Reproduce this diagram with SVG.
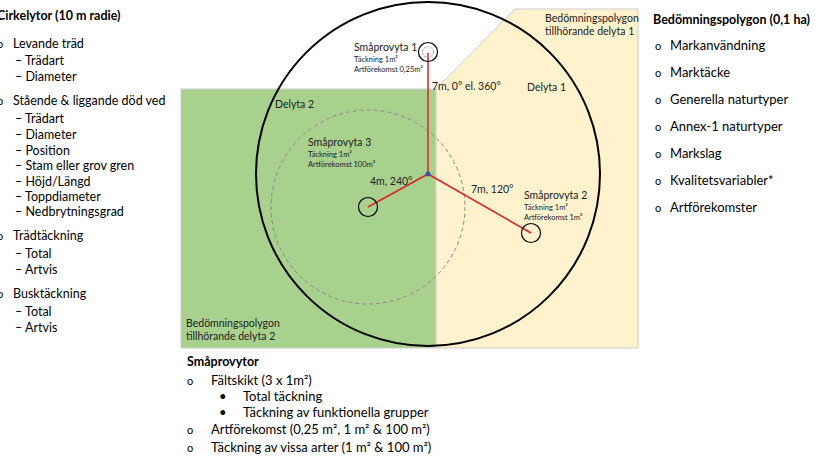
<svg xmlns="http://www.w3.org/2000/svg" width="821" height="462" viewBox="0 0 821 462">
<style>
text{font-family:Lato,"Liberation Sans",sans-serif;fill:#000}
.t{font-size:13px}
.l{font-size:12.5px}
.b{font-size:12.5px;font-weight:bold}
.s{font-size:7.5px;fill:#222}
.m{font-size:10.5px;fill:#222}
.sc{fill:none;stroke:#000;stroke-width:1.2}
.r{stroke:#e02020;stroke-width:1.5}
</style>
<rect width="821" height="462" fill="#fff"/>
<g id="polygon2"><rect x="181" y="89" width="255" height="259" fill="#a9d18e" stroke="#ccc"/></g>
<g id="polygon1"><polygon points="436,89 515,9 638,9 638,348 436,348" fill="#fff2cc" stroke="#ccc"/></g>
<g id="bigcircle"><circle cx="428" cy="174" r="172" fill="none" stroke="#000" stroke-width="2"/></g>
<g id="dashcircle"><circle cx="368" cy="207" r="97" fill="none" stroke="#888" stroke-dasharray="4,3"/></g>
<g id="connectors">
<line class="r" x1="428" y1="174" x2="428" y2="53" stroke="#f08080"/>
<line class="r" x1="428" y1="174" x2="368" y2="207"/>
<line class="r" x1="428" y1="174" x2="531" y2="233"/>
</g>
<g id="center"><circle cx="428" cy="174" r="2.5" fill="#2e5aa8"/></g>
<g id="sp1"><circle class="sc" cx="428" cy="52" r="9.5"/><circle cx="428" cy="52" r="5.5" fill="none" stroke="#777" stroke-width="0.8" stroke-dasharray="2,1.5"/>
<text x="354" y="51" class="m">Småprovyta 1</text><text x="354" y="62" class="s">Täckning 1m²</text><text x="354" y="72" class="s">Artförekomst 0,25m²</text></g>
<g id="sp2"><circle class="sc" cx="531" cy="233" r="9.5"/>
<text x="524" y="199" class="m">Småprovyta 2</text><text x="524" y="210" class="s">Täckning 1m²</text><text x="524" y="220" class="s">Artförekomst 1m²</text></g>
<g id="sp3"><circle class="sc" cx="368" cy="207" r="9.5"/>
<text x="308" y="146" class="m">Småprovyta 3</text><text x="308" y="157" class="s">Täckning 1m²</text><text x="308" y="167" class="s">Artförekomst 100m²</text></g>
<g id="labels">
<text x="432" y="90" class="m">7m, 0° el. 360°</text>
<text x="471" y="193" class="m">7m, 120°</text>
<text x="370" y="185" class="m">4m, 240°</text>
<text x="527" y="91" class="m">Delyta 1</text>
<text x="275" y="108" class="m">Delyta 2</text>
<text x="545" y="22" class="m">Bedömningspolygon</text><text x="545" y="35" class="m">tillhörande delyta 1</text>
<text x="186" y="327" class="m">Bedömningspolygon</text><text x="186" y="340" class="m">tillhörande delyta 2</text>
</g>
<g id="leftlist">
<text x="-3" y="20" class="b">Cirkelytor (10 m radie)</text>
<text x="-3" y="48" font-size="11">o</text><text x="13" y="48" class="l">Levande träd</text>
<text x="15" y="65" class="l">–  Trädart</text><text x="15" y="81" class="l">–  Diameter</text>
<text x="-3" y="105" font-size="11">o</text><text x="13" y="105" class="l">Stående &amp; liggande död ved</text>
<text x="15" y="123" class="l">–  Trädart</text><text x="15" y="139" class="l">–  Diameter</text><text x="15" y="155" class="l">–  Position</text><text x="15" y="170" class="l">–  Stam eller grov gren</text><text x="15" y="186" class="l">–  Höjd/Längd</text><text x="15" y="201" class="l">–  Toppdiameter</text><text x="15" y="216" class="l">–  Nedbrytningsgrad</text>
<text x="-3" y="240" font-size="11">o</text><text x="13" y="240" class="l">Trädtäckning</text>
<text x="15" y="258" class="l">–  Total</text><text x="15" y="274" class="l">–  Artvis</text>
<text x="-3" y="298" font-size="11">o</text><text x="13" y="298" class="l">Busktäckning</text>
<text x="15" y="316" class="l">–  Total</text><text x="15" y="332" class="l">–  Artvis</text>
</g>
<g id="rightlist">
<text x="653" y="24" class="b">Bedömningspolygon (0,1 ha)</text>
<g font-size="11"><text x="655" y="50">o</text><text x="655" y="77">o</text><text x="655" y="104">o</text><text x="655" y="131">o</text><text x="655" y="158">o</text><text x="655" y="185">o</text><text x="655" y="212">o</text></g>
<text x="670" y="50" class="t">Markanvändning</text><text x="670" y="77" class="t">Marktäcke</text><text x="670" y="104" class="t">Generella naturtyper</text><text x="670" y="131" class="t">Annex-1 naturtyper</text><text x="670" y="158" class="t">Markslag</text><text x="670" y="185" class="t">Kvalitetsvariabler*</text><text x="670" y="212" class="t">Artförekomster</text>
</g>
<g id="bottomlist">
<text x="187" y="366" class="b">Småprovytor</text>
<text x="187" y="385" font-size="11">o</text><text x="211" y="385" class="t">Fältskikt (3 x 1m²)</text>
<text x="219" y="401" class="t">•</text><text x="243" y="401" class="t">Total täckning</text>
<text x="219" y="417" class="t">•</text><text x="243" y="417" class="t">Täckning av funktionella grupper</text>
<text x="187" y="434" font-size="11">o</text><text x="211" y="434" class="t">Artförekomst (0,25 m², 1 m² &amp; 100 m²)</text>
<text x="187" y="452" font-size="11">o</text><text x="211" y="452" class="t">Täckning av vissa arter (1 m² &amp; 100 m²)</text>
</g>
</svg>
